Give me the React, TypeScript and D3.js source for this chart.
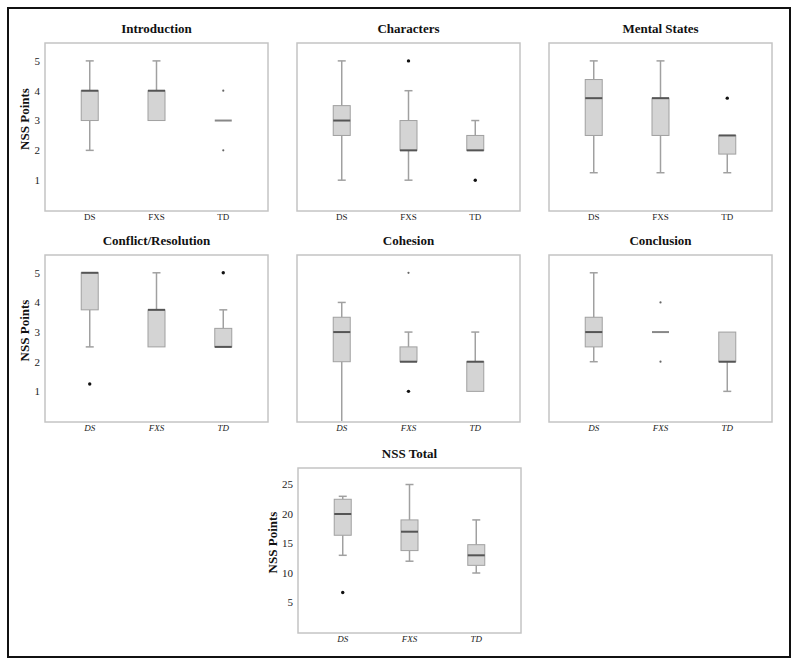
import React from 'react';
import * as d3 from 'd3';

// groups on the x axis
const groups = ['DS', 'FXS', 'TD'];

// box stats per group: lo whisker, q1, median, q3, hi whisker
// out = outliers (black dots), ext = small grey dots
const introduction = [
    { lo: 2, q1: 3, med: 4, q3: 4, hi: 5, out: [], ext: [] },
    { lo: 3, q1: 3, med: 4, q3: 4, hi: 5, out: [], ext: [] },
    { lo: 3, q1: 3, med: 3, q3: 3, hi: 3, out: [], ext: [4, 2] },
];
const characters = [
    { lo: 1, q1: 2.5, med: 3, q3: 3.5, hi: 5, out: [], ext: [] },
    { lo: 1, q1: 2, med: 2, q3: 3, hi: 4, out: [5], ext: [] },
    { lo: 2, q1: 2, med: 2, q3: 2.5, hi: 3, out: [1], ext: [] },
];
const mentalStates = [
    { lo: 1.25, q1: 2.5, med: 3.75, q3: 4.375, hi: 5, out: [], ext: [] },
    { lo: 1.25, q1: 2.5, med: 3.75, q3: 3.75, hi: 5, out: [], ext: [] },
    { lo: 1.25, q1: 1.875, med: 2.5, q3: 2.5, hi: 2.5, out: [3.75], ext: [] },
];
const conflict = [
    { lo: 2.5, q1: 3.75, med: 5, q3: 5, hi: 5, out: [1.25], ext: [] },
    { lo: 2.5, q1: 2.5, med: 3.75, q3: 3.75, hi: 5, out: [], ext: [] },
    { lo: 2.5, q1: 2.5, med: 2.5, q3: 3.125, hi: 3.75, out: [5], ext: [] },
];
const cohesion = [
    { lo: 0, q1: 2, med: 3, q3: 3.5, hi: 4, out: [], ext: [] },
    { lo: 2, q1: 2, med: 2, q3: 2.5, hi: 3, out: [1], ext: [5] },
    { lo: 1, q1: 1, med: 2, q3: 2, hi: 3, out: [], ext: [] },
];
const conclusion = [
    { lo: 2, q1: 2.5, med: 3, q3: 3.5, hi: 5, out: [], ext: [] },
    { lo: 3, q1: 3, med: 3, q3: 3, hi: 3, out: [], ext: [4, 2] },
    { lo: 1, q1: 2, med: 2, q3: 3, hi: 3, out: [], ext: [] },
];
const nssTotal = [
    { lo: 13, q1: 16.4, med: 20, q3: 22.5, hi: 23, out: [6.7], ext: [] },
    { lo: 12, q1: 13.8, med: 17, q3: 19, hi: 25, out: [], ext: [] },
    { lo: 10, q1: 11.3, med: 13, q3: 14.8, hi: 19, out: [], ext: [] },
];

const subTicks = [1, 2, 3, 4, 5];
const totalTicks = [5, 10, 15, 20, 25];

const panels = [
    { title: 'Introduction', data: introduction, x: 45, y: 43, h: 168, max: 5.6, ticks: subTicks, yAxis: true, italic: false },
    { title: 'Characters', data: characters, x: 297, y: 43, h: 168, max: 5.6, ticks: subTicks, yAxis: false, italic: false },
    { title: 'Mental States', data: mentalStates, x: 549, y: 43, h: 168, max: 5.6, ticks: subTicks, yAxis: false, italic: false },
    { title: 'Conflict/Resolution', data: conflict, x: 45, y: 255, h: 167, max: 5.6, ticks: subTicks, yAxis: true, italic: true },
    { title: 'Cohesion', data: cohesion, x: 297, y: 255, h: 167, max: 5.6, ticks: subTicks, yAxis: false, italic: true },
    { title: 'Conclusion', data: conclusion, x: 549, y: 255, h: 167, max: 5.6, ticks: subTicks, yAxis: false, italic: true },
    { title: 'NSS Total', data: nssTotal, x: 298, y: 468, h: 165, max: 27.8, ticks: totalTicks, yAxis: true, italic: true },
];

const W = 223;
const font = '"Liberation Serif", "Times New Roman", serif';

const Panel = ({ p }) => {
    const x = d3.scalePoint().domain(groups).range([0, W]).padding(0.67);
    const y = d3.scaleLinear().domain([0, p.max]).range([p.h - 1, 0]);
    const bw = 17;
    return (
        <g transform={`translate(${p.x},${p.y})`}>
            <text x={W / 2} y={-10} textAnchor="middle" fontFamily={font} fontWeight="bold" fontSize={13} fill="#111">{p.title}</text>
            <rect x={0} y={0} width={W} height={p.h} fill="white" stroke="#c4c4c4" strokeWidth={1.5} />
            {p.data.map((d, i) => {
                const cx = x(groups[i]);
                return (
                    <g key={i}>
                        {d.hi > d.q3 && <line x1={cx} x2={cx} y1={y(d.hi)} y2={y(d.q3)} stroke="#a0a0a0" strokeWidth={1.5} />}
                        {d.lo < d.q1 && <line x1={cx} x2={cx} y1={y(d.lo)} y2={y(d.q1)} stroke="#a0a0a0" strokeWidth={1.5} />}
                        {d.hi > d.q3 && <line x1={cx - 4} x2={cx + 4} y1={y(d.hi)} y2={y(d.hi)} stroke="#a0a0a0" strokeWidth={1.5} />}
                        {d.lo < d.q1 && d.lo > 0 && <line x1={cx - 4} x2={cx + 4} y1={y(d.lo)} y2={y(d.lo)} stroke="#a0a0a0" strokeWidth={1.5} />}
                        {d.q3 > d.q1 && <rect x={cx - bw / 2} y={y(d.q3)} width={bw} height={y(d.q1) - y(d.q3)} fill="#d4d4d4" stroke="#a0a0a0" strokeWidth={1} />}
                        <line x1={cx - bw / 2} x2={cx + bw / 2} y1={y(d.med)} y2={y(d.med)} stroke={d.q3 > d.q1 ? '#555' : '#888'} strokeWidth={2} />
                        {d.out.map((v, j) => <circle key={'o' + j} cx={cx} cy={y(v)} r={1.7} fill="#111" />)}
                        {d.ext.map((v, j) => <circle key={'e' + j} cx={cx} cy={y(v)} r={1.1} fill="#666" />)}
                        <text x={cx} y={p.h + 9} textAnchor="middle" fontFamily={font} fontSize={9} fill="#222" fontStyle={p.italic ? 'italic' : 'normal'}>{groups[i]}</text>
                    </g>
                );
            })}
            {p.yAxis && p.ticks.map(t => (
                <text key={t} x={-5} y={y(t)} dy="0.35em" textAnchor="end" fontFamily={font} fontSize={11} fill="#222">{t}</text>
            ))}
            {p.yAxis && (
                <text transform={`translate(${p.max > 10 ? -26 : -21},${p.h / 2 - 8}) rotate(-90)`} textAnchor="middle" dy="0.35em" fontFamily={font} fontWeight="bold" fontSize={13} fill="#111">NSS Points</text>
            )}
        </g>
    );
};

export default function App() {
    return (
        <svg width={800} height={666} style={{ position: 'absolute', left: 0, top: 0, background: 'white' }}>
            <rect x={8} y={8} width={782} height={649} fill="white" stroke="#111" strokeWidth={2} />
            {panels.map(p => <Panel key={p.title} p={p} />)}
        </svg>
    );
}
